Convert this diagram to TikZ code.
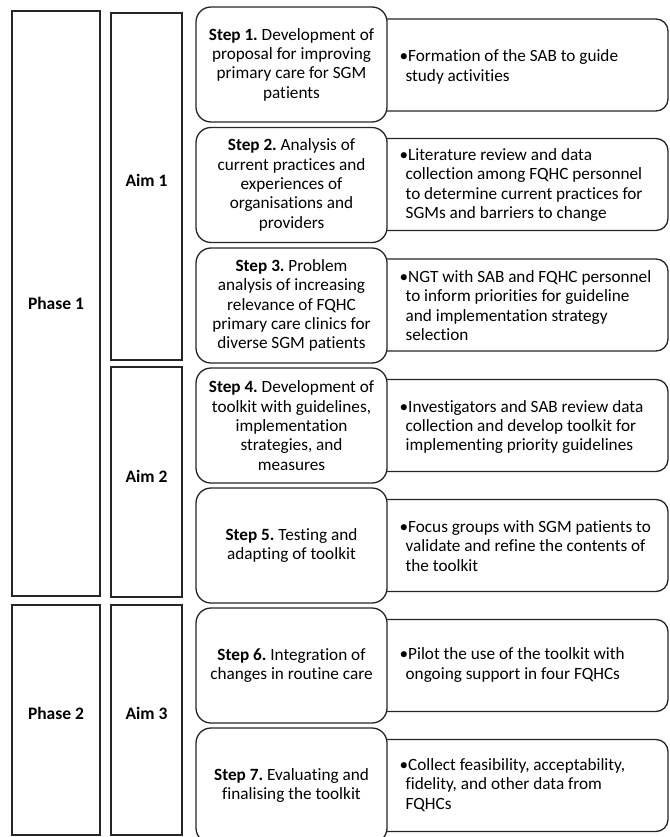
\documentclass[tikz,border=0pt]{standalone}
\usepackage{fontspec}
\setmainfont{Carlito}[Ligatures=NoCommon]
\frenchspacing
\begin{document}
\begin{tikzpicture}[x=1pt,y=-1pt,
  line width=1.3pt, draw=black!85,
  frame/.style={draw=black!85, line width=1.3pt, fill=white, inner sep=0pt},
  stepbox/.style={draw=black!85, line width=1.3pt, fill=white, rounded corners=15pt,
    minimum width=191pt, minimum height=115pt, inner sep=0pt, align=center,
    font=\fontsize{17.2}{19.3}\selectfont},
  rbox/.style={draw=black!85, line width=1.3pt, fill=white, rounded corners=12pt},
  rtext/.style={anchor=west, align=left, inner sep=0pt, font=\fontsize{17.2}{19.3}\selectfont},
  lab/.style={font=\fontsize{17.5}{20}\selectfont\bfseries, inner sep=0pt}]
\useasboundingbox (0,0) rectangle (669,837);
\begin{scope}
\clip (0,0) rectangle (669,837);
% phase and aim frames
\node[frame, minimum width=88pt, minimum height=585pt] (ph1) at (56,303.5) {};
\node[frame, minimum width=88pt, minimum height=230pt] (ph2) at (56,720) {};
\node[frame, minimum width=71pt, minimum height=347pt] (aim1) at (146.5,186.5) {};
\node[frame, minimum width=71pt, minimum height=230pt] (aim2) at (146.5,482) {};
\node[frame, minimum width=71pt, minimum height=230pt] (aim3) at (146.5,720) {};
\node[lab] (lph1) at (56,303) {Phase 1};
\node[lab] (lph2) at (56,713) {Phase 2};
\node[lab] (laim1) at (146.5,180) {Aim 1};
\node[lab] (laim2) at (146.5,476) {Aim 2};
\node[lab] (laim3) at (146.5,713) {Aim 3};
% right boxes
\foreach \c in {65,184.5,305,425.5,545.5,665.5,785.5}{
  \filldraw[rbox] (370,\c-46) -- (668,\c-46) -- (668,\c+46) -- (370,\c+46);
}
% step boxes
\node[stepbox] (s1) at (291.5,64.5) {\textbf{Step 1.} Development of\\proposal for improving\\primary care for SGM\\patients};
\node[stepbox] (s2) at (291.5,185) {\textbf{Step 2.} Analysis of\\current practices and\\experiences of\\organisations and\\providers};
\node[stepbox] (s3) at (291.5,305.5) {\textbf{Step 3.} Problem\\analysis of increasing\\relevance of FQHC\\primary care clinics for\\diverse SGM patients};
\node[stepbox] (s4) at (291.5,425.5) {\textbf{Step 4.} Development of\\toolkit with guidelines,\\implementation\\strategies, and\\measures};
\node[stepbox] (s5) at (291.5,545.5) {\textbf{Step 5.} Testing and\\adapting of toolkit};
\node[stepbox] (s6) at (291.5,665.5) {\textbf{Step 6.} Integration of\\changes in routine care};
\node[stepbox] (s7) at (291.5,785.5) {\textbf{Step 7.} Evaluating and\\finalising the toolkit};
% right texts
\def\hi{\hspace*{6pt}}
\node[rtext] (t1) at (399,67) {•Formation of the SAB to guide\\\hi study activities};
\node[rtext] (t2) at (399,185) {•Literature review and data\\\hi collection among FQHC personnel\\\hi to determine current practices for\\\hi SGMs and barriers to change};
\node[rtext] (t3) at (399,305.5) {•NGT with SAB and FQHC personnel\\\hi to inform priorities for guideline\\\hi and implementation strategy\\\hi selection};
\node[rtext] (t4) at (399,427) {•Investigators and SAB review data\\\hi collection and develop toolkit for\\\hi implementing priority guidelines};
\node[rtext] (t5) at (399,546) {•Focus groups with SGM patients to\\\hi validate and refine the contents of\\\hi the toolkit};
\node[rtext] (t6) at (399,665) {•Pilot the use of the toolkit with\\\hi ongoing support in four FQHCs};
\node[rtext] (t7) at (399,785) {•Collect feasibility, acceptability,\\\hi fidelity, and other data from\\\hi FQHCs};
\end{scope}
\end{tikzpicture}
\end{document}
